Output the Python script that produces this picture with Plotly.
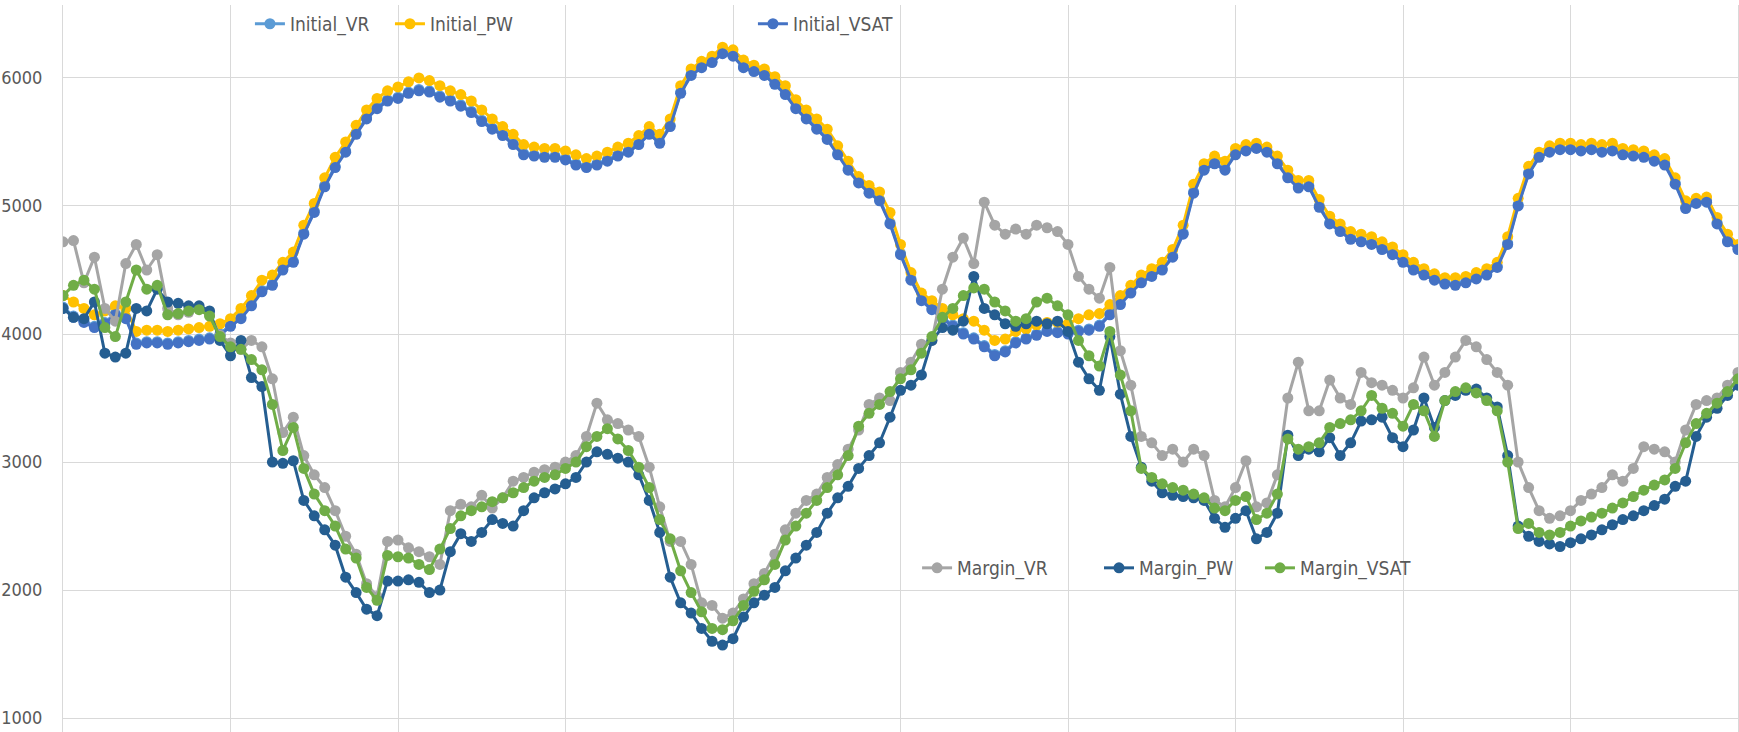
import plotly.graph_objects as go

# Sample index along the horizontal axis (161 samples, grid every 16)
steps = list(range(161))

initial_vr = [
    4210, 4140, 4100, 4060, 4090, 4160, 4130, 3930, 3940, 3940,
    3930, 3940, 3950, 3960, 3970, 4000, 4070, 4130, 4230, 4340,
    4390, 4510, 4570, 4790, 4960, 5160, 5310, 5430, 5570, 5690,
    5770, 5830, 5850, 5890, 5910, 5900, 5860, 5830, 5790, 5740,
    5670, 5610, 5560, 5490, 5410, 5400, 5390, 5390, 5370, 5330,
    5310, 5330, 5360, 5400, 5430, 5490, 5570, 5500, 5630, 5890,
    6030, 6090, 6130, 6200, 6180, 6090, 6060, 6030, 5960, 5880,
    5770, 5690, 5610, 5530, 5410, 5290, 5190, 5110, 5050, 4870,
    4630, 4430, 4270, 4200, 4130, 4070, 4010, 3970, 3910, 3840,
    3870, 3940, 3970, 4000, 4030, 4020, 4010, 4030, 4040, 4070,
    4160, 4240, 4330, 4410, 4460, 4510, 4610, 4790, 5110, 5290,
    5340, 5290, 5410, 5440, 5460, 5430, 5340, 5230, 5150, 5160,
    5000, 4870, 4810, 4750, 4730, 4710, 4670, 4630, 4570, 4510,
    4470, 4430, 4400, 4390, 4410, 4440, 4470, 4530, 4710, 5010,
    5260, 5390, 5430, 5450, 5450, 5440, 5450, 5430, 5440, 5410,
    5400, 5390, 5360, 5330, 5180, 4990, 5030, 5040, 4870, 4730,
    4670,
]

initial_pw = [
    4300, 4250, 4200, 4150, 4180, 4220, 4200, 4020, 4030, 4030,
    4020, 4030, 4040, 4050, 4060, 4080, 4120, 4200, 4300, 4420,
    4460, 4560, 4640, 4850, 5020, 5220, 5380, 5500, 5630, 5750,
    5840, 5900, 5930, 5970, 6000, 5980, 5940, 5900, 5870, 5820,
    5750, 5680, 5620, 5560, 5480, 5460, 5450, 5450, 5430, 5400,
    5370, 5390, 5420, 5460, 5490, 5550, 5620, 5560, 5680, 5940,
    6070, 6130, 6170, 6240, 6220, 6140, 6100, 6070, 6010, 5940,
    5830, 5750, 5680, 5600, 5470, 5350, 5230, 5160, 5110, 4950,
    4700, 4480, 4320, 4260, 4200, 4150, 4120, 4100, 4030, 3950,
    3960, 4020, 4040, 4070, 4090, 4090, 4080, 4120, 4150, 4160,
    4230, 4300, 4380, 4460, 4510, 4560, 4660, 4850, 5170, 5330,
    5390, 5350, 5450, 5480, 5490, 5460, 5390, 5280, 5200, 5200,
    5050, 4920, 4860, 4800, 4780, 4760, 4720, 4680, 4620, 4560,
    4510, 4470, 4440, 4440, 4450, 4480, 4510, 4560, 4760, 5060,
    5310, 5420, 5470, 5490, 5490, 5480, 5490, 5480, 5490, 5450,
    5440, 5430, 5400, 5370, 5220, 5040, 5060, 5070, 4910, 4780,
    4700,
]

initial_vsat = [
    4200, 4130, 4090, 4050, 4080, 4150, 4120, 3920, 3930, 3930,
    3920, 3930, 3940, 3950, 3960, 3990, 4060, 4120, 4220, 4330,
    4380, 4500, 4560, 4780, 4950, 5150, 5300, 5420, 5560, 5680,
    5760, 5820, 5840, 5880, 5900, 5890, 5850, 5820, 5780, 5730,
    5660, 5600, 5550, 5480, 5400, 5390, 5380, 5380, 5360, 5320,
    5300, 5320, 5350, 5390, 5420, 5480, 5560, 5490, 5620, 5880,
    6020, 6080, 6120, 6190, 6170, 6080, 6050, 6020, 5950, 5870,
    5760, 5680, 5600, 5520, 5400, 5280, 5180, 5100, 5040, 4860,
    4620, 4420, 4260, 4190, 4120, 4060, 4000, 3960, 3900, 3830,
    3860, 3930, 3960, 3990, 4020, 4010, 4000, 4020, 4030, 4060,
    4150, 4230, 4320, 4400, 4450, 4500, 4600, 4780, 5100, 5280,
    5330, 5280, 5400, 5430, 5450, 5420, 5330, 5220, 5140, 5150,
    4990, 4860, 4800, 4740, 4720, 4700, 4660, 4620, 4560, 4500,
    4460, 4420, 4390, 4380, 4400, 4430, 4460, 4520, 4700, 5000,
    5250, 5380, 5420, 5440, 5440, 5430, 5440, 5420, 5430, 5400,
    5390, 5380, 5350, 5320, 5170, 4980, 5020, 5030, 4860, 4720,
    4660,
]

margin_vr = [
    4720, 4730, 4400, 4600, 4200, 4100, 4550, 4700, 4500, 4620,
    4200, 4150, 4170, 4200, 4150, 3990, 3930, 3880, 3950, 3900,
    3650, 3230, 3350, 3050, 2900, 2800, 2620, 2420, 2280, 2050,
    1950, 2380, 2390, 2330, 2300, 2260, 2200, 2620, 2670, 2650,
    2740, 2640, 2720, 2850, 2880, 2920, 2940, 2960, 3000, 3050,
    3200, 3460, 3330, 3300, 3250, 3200, 2960, 2650, 2380, 2380,
    2200, 1900, 1880, 1780, 1820, 1930, 2050, 2130, 2280, 2470,
    2600, 2700, 2750, 2880, 2980, 3100, 3250, 3450, 3500, 3480,
    3700, 3780, 3920, 3950, 4350, 4600, 4750, 4550, 5030, 4850,
    4780, 4820, 4780, 4850, 4830, 4800, 4700, 4450, 4350, 4280,
    4520, 3870, 3600, 3200, 3150, 3050, 3100, 3000, 3100, 3050,
    2700, 2650, 2800, 3010, 2650, 2680, 2900, 3500, 3780, 3400,
    3400, 3640, 3500, 3450, 3700, 3620, 3600, 3560, 3500, 3580,
    3820, 3600, 3700, 3820, 3950, 3900, 3800, 3700, 3600, 3000,
    2800, 2620, 2560, 2580, 2620, 2700, 2750, 2800, 2900, 2850,
    2950, 3120, 3100, 3080, 3000, 3250, 3450, 3480, 3500, 3600,
    3700,
]

margin_pw = [
    4200, 4130, 4120, 4250, 3850, 3820, 3850, 4200, 4180, 4350,
    4250, 4240, 4220, 4220, 4180, 3950, 3830, 3950, 3660, 3590,
    3000, 2990, 3010, 2700, 2580, 2470, 2350, 2100, 1980, 1850,
    1800, 2070, 2070, 2080, 2060, 1980, 2000, 2300, 2440, 2380,
    2450, 2550, 2520, 2500, 2620, 2720, 2760, 2790, 2830, 2880,
    3000, 3080, 3060, 3030, 3000, 2900, 2700, 2450, 2100, 1900,
    1820, 1700, 1600, 1570, 1620, 1790, 1900, 1960, 2020, 2150,
    2250, 2350, 2450, 2600, 2720, 2810, 2950, 3050, 3150, 3350,
    3560, 3600, 3680, 3950, 4050, 4030, 4100, 4450, 4200, 4150,
    4080, 4060, 4080, 4100, 4080, 4100, 4020, 3780, 3650, 3560,
    3980, 3530, 3200, 2960, 2850, 2760, 2740, 2730, 2720, 2700,
    2560, 2490, 2560, 2620, 2400, 2450, 2600, 3210, 3050, 3100,
    3080, 3190, 3050, 3150, 3320, 3330, 3350, 3190, 3120, 3250,
    3500, 3270, 3480, 3520, 3560, 3570, 3500, 3430, 3050, 2500,
    2420, 2380, 2360, 2340, 2370, 2400, 2430, 2470, 2510, 2550,
    2580, 2620, 2660, 2710, 2810, 2850, 3200, 3350, 3420, 3520,
    3600,
]

margin_vsat = [
    4300, 4380, 4420, 4350, 4050, 3980, 4250, 4500, 4350, 4380,
    4150, 4160, 4180, 4190, 4140, 3980, 3900, 3880, 3800, 3720,
    3450, 3090, 3270, 2950, 2750, 2620, 2500, 2320, 2250, 2020,
    1920, 2270, 2260, 2250, 2200, 2160, 2320, 2480, 2580, 2620,
    2650, 2690, 2720, 2760, 2800, 2850, 2880, 2900, 2950, 3000,
    3120, 3200, 3260, 3180, 3090, 2960, 2800, 2550, 2400, 2150,
    1980, 1830, 1700, 1690, 1760, 1880, 1990, 2080, 2200, 2390,
    2500, 2600, 2700, 2800, 2900, 3050, 3280, 3380, 3450, 3550,
    3650, 3720, 3850, 3980, 4130, 4200, 4300, 4360, 4350, 4250,
    4180, 4100, 4120, 4250, 4280, 4220, 4150, 3950, 3830, 3750,
    4020, 3680, 3400, 2950, 2880, 2830, 2800, 2780, 2750, 2720,
    2640, 2620, 2700, 2730, 2550, 2600, 2750, 3180, 3100, 3120,
    3150, 3270, 3300, 3330, 3400, 3520, 3420, 3380, 3280, 3450,
    3400, 3200, 3480, 3550, 3580, 3540, 3480, 3400, 3000, 2480,
    2520, 2450, 2430, 2450, 2500, 2540, 2570, 2600, 2640, 2680,
    2730, 2780, 2820, 2860, 2950, 3150, 3300, 3380, 3460, 3550,
    3650,
]

series = [
    ("Initial_VR", initial_vr, "#5B9BD5", "legend"),
    ("Initial_PW", initial_pw, "#FFC000", "legend2"),
    ("Initial_VSAT", initial_vsat, "#4472C4", "legend3"),
    ("Margin_VR", margin_vr, "#A5A5A5", "legend4"),
    ("Margin_PW", margin_pw, "#255E91", "legend5"),
    ("Margin_VSAT", margin_vsat, "#70AD47", "legend6"),
]

fig = go.Figure()
for name, values, color, leg in series:
    fig.add_trace(go.Scatter(
        x=steps, y=values, name=name, mode="lines+markers",
        line=dict(color=color, width=3),
        marker=dict(color=color, size=11, symbol="circle"),
        legend=leg,
    ))

narrow = "Liberation Sans Narrow, DejaVu Sans Condensed, Arial Narrow, sans-serif"
legend_font = dict(family=narrow, size=19, color="#595959")

def legend_at(x, y):
    return dict(x=x, y=y, xanchor="left", yanchor="middle",
                orientation="h", bgcolor="rgba(0,0,0,0)",
                font=legend_font, borderwidth=0)

fig.update_layout(
    width=1739, height=732, autosize=False,
    margin=dict(l=63, r=1, t=5, b=0),
    paper_bgcolor="white", plot_bgcolor="white",
    showlegend=True,
    legend=legend_at(0.1116, 0.974),
    legend2=legend_at(0.1952, 0.974),
    legend3=legend_at(0.4119, 0.974),
    legend4=legend_at(0.5099, 0.2256),
    legend5=legend_at(0.6185, 0.2256),
    legend6=legend_at(0.7146, 0.2256),
    xaxis=dict(
        range=[0, 160], dtick=16, tick0=0, showticklabels=False,
        showgrid=True, gridcolor="#D9D9D9", gridwidth=1,
        zeroline=False, showline=False, ticks="",
    ),
    yaxis=dict(
        range=[891, 6570], dtick=1000, tick0=0, tickformat="d",
        showgrid=True, gridcolor="#D9D9D9", gridwidth=1,
        zeroline=False, showline=True, linecolor="#D9D9D9", linewidth=1,
        mirror=True, ticks="", ticklabelstandoff=16,
        tickfont=dict(family=narrow, size=18, color="#595959"),
    ),
)

fig.write_html("out.html")
